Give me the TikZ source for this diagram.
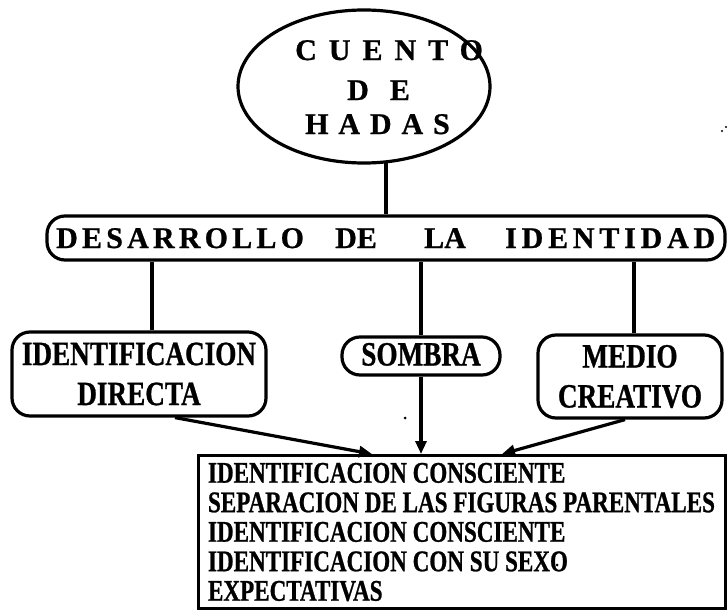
\documentclass[tikz,border=0pt]{standalone}
\usepackage{fontspec}
\setmainfont{Liberation Serif}
\newfontfamily\tfont{Liberation Serif}[FakeBold=0.8]
\newfontfamily\cndA{Liberation Serif}[FakeStretch=0.8,FakeBold=0.8]
\newfontfamily\cndB{Liberation Serif}[FakeStretch=0.77,FakeBold=0.8]
\usetikzlibrary{shapes.geometric,arrows.meta}
\begin{document}
\begin{tikzpicture}[x=1pt,y=-1pt,
  ln/.style={line width=3.2pt},
  rbox/.style={draw,line width=3.2pt,rounded corners=18pt,inner sep=0pt,align=center},
  arr/.style={line width=3.2pt,-{Triangle[length=13pt,width=11pt]}},
  ttl/.style={font=\tfont\bfseries\fontsize{30}{30}\selectfont, inner sep=0pt, anchor=base west},
  kid/.style={font=\cndA\bfseries\fontsize{34}{40}\selectfont}
]
\useasboundingbox (0,0) rectangle (728,610);
% ellipse
\node[draw, ellipse, line width=3.2pt, minimum width=252pt, minimum height=153pt, inner sep=0pt] (ell) at (364,86.5) {};
\node[ttl] (c1) at (295,60) {\addfontfeature{LetterSpace=40}CUENTO};
\node[ttl] (c2) at (347,100) {\addfontfeature{LetterSpace=70}DE};
\node[ttl] (c3) at (305,134) {\addfontfeature{LetterSpace=33}HADAS};
% desarrollo box
\node[draw, line width=3.2pt, rounded corners=18pt, minimum width=678pt, minimum height=44pt, inner sep=0pt] (dev) at (386,238) {};
\node[ttl] (d1) at (56,248) {\addfontfeature{LetterSpace=14}DESARROLLO};
\node[ttl] (d2) at (335,248) {DE};
\node[ttl] (d3) at (424,248) {LA};
\node[ttl] (d4) at (505,248) {\addfontfeature{LetterSpace=16}IDENTIDAD};
% children
\node[rbox, kid, minimum width=254pt, minimum height=84pt] (idb) at (139,374) {IDENTIFICACION\\DIRECTA};
\node[rbox, kid, rounded corners=18pt, minimum width=158pt, text height=24pt, text depth=5pt, minimum height=38pt] (som) at (421,356) {SOMBRA};
\node[rbox, kid, minimum width=184pt, minimum height=83pt] (med) at (630,376.5) {MEDIO\\CREATIVO};
% result
\node[draw, line width=3pt, minimum width=527pt, minimum height=153pt, inner sep=0pt, align=left,
      font=\cndB\bfseries\fontsize{30}{29.5}\selectfont] (res) at (461.5,532)
  {IDENTIFICACION CONSCIENTE\\SEPARACION DE LAS FIGURAS PARENTALES\\IDENTIFICACION CONSCIENTE\\IDENTIFICACION CON SU SEXO\\EXPECTATIVAS};
% connectors
\draw[ln] (ell.-74) -- (ell.-74 |- dev.north);
\draw[ln] ([xshift=13pt]idb.north) -- ([xshift=13pt]idb.north |- dev.south);
\draw[ln] (som.north) -- (som.north |- dev.south);
\draw[ln] ([xshift=4pt]med.north) -- ([xshift=4pt]med.north |- dev.south);
\draw[arr] ([xshift=36pt]idb.south) -- ([xshift=-89.5pt]res.north);
\draw[arr] (som.south) -- (som.south |- res.north);
\draw[arr] ([xshift=-5pt]med.south) -- ([xshift=40.5pt]res.north);
% specks
\fill (405,418) circle (1.5);
\fill (557,565) circle (1.5);
\fill (722,131) circle (1.2);
\fill (726,127) circle (1.2);
\end{tikzpicture}
\end{document}
